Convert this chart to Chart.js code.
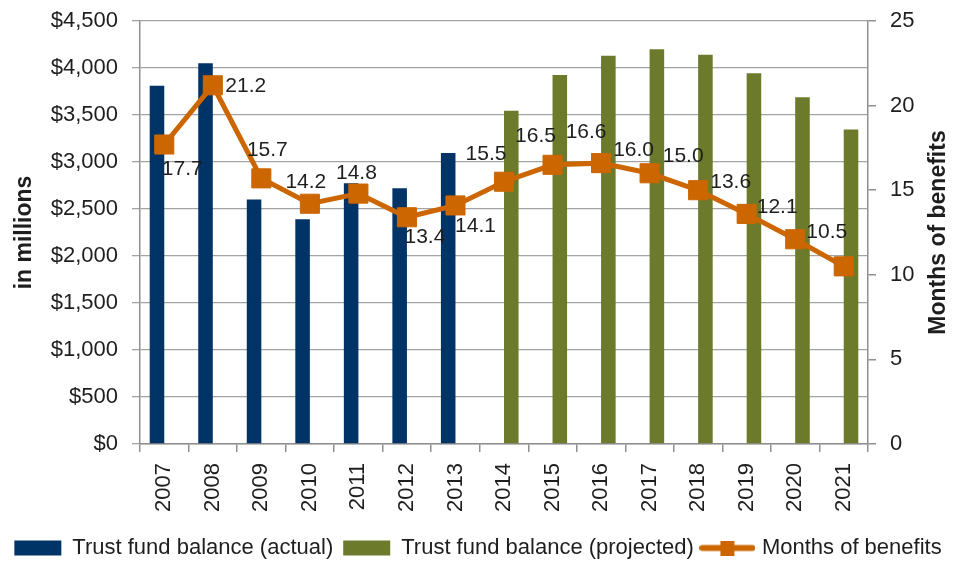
<!DOCTYPE html>
<html>
<head>
<meta charset="utf-8">
<title>Trust fund balance</title>
<script src="https://cdn.jsdelivr.net/npm/chart.js@4.4.1/dist/chart.umd.min.js"></script>
<style>
  html, body { margin: 0; padding: 0; background: #fff; }
  #chart { display: block; }
</style>
</head>
<body>
<canvas id="chart" width="956" height="561"></canvas>
<script>
const years = ['2007', '2008', '2009', '2010', '2011', '2012', '2013', '2014',
    '2015', '2016', '2017', '2018', '2019', '2020', '2021'];
// balances in $ millions
const actualBalance = [3810, 4050, 2600, 2390, 2775, 2720, 3095,
    null, null, null, null, null, null, null, null];
const projectedBalance = [null, null, null, null, null, null, null,
    3545, 3925, 4130, 4200, 4140, 3945, 3690, 3345];
const monthsOfBenefits = [17.7, 21.2, 15.7, 14.2, 14.8, 13.4, 14.1, 15.5,
    16.5, 16.6, 16.0, 15.0, 13.6, 12.1, 10.5];
const balanceTicks = [0, 500, 1000, 1500, 2000, 2500, 3000, 3500, 4000, 4500];
const monthTicks = [0, 5, 10, 15, 20, 25];

// where each value label sits relative to its marker (px)
const labelOffsets = [[18, 25], [33, 1], [6, -28], [-4, -22], [-2, -20], [18, 20], [20, 21],
    [-18, -28], [-17, -29], [-15, -31], [-16, -23], [-15, -34], [-16, -32], [-18, -32], [-17, -34]];

const NAVY = '#003366';
const OLIVE = '#6B7A2B';
const ORANGE = '#CC6600';
const GRID = '#a3a3a3';
const AXIS = '#8f8f8f';
const TEXT = '#1e1e1e';
const FONT = "'Liberation Sans', Arial, sans-serif";

Chart.defaults.font.family = FONT;
Chart.defaults.color = TEXT;

// legend symbol for the line series: line with square marker
function lineSymbol() {
    const c = document.createElement('canvas');
    c.width = 56;
    c.height = 15;
    const g = c.getContext('2d');
    g.strokeStyle = ORANGE;
    g.lineWidth = 6;
    g.lineCap = 'round';
    g.beginPath();
    g.moveTo(3, 7.5);
    g.lineTo(53, 7.5);
    g.stroke();
    g.fillStyle = ORANGE;
    g.fillRect(21, 0, 14, 15);
    return c;
}

const valueLabels = {
    id: 'valueLabels',
    afterDatasetsDraw(chart) {
        const meta = chart.getDatasetMeta(2);
        const ctx = chart.ctx;
        ctx.save();
        ctx.font = '21px ' + FONT;
        ctx.fillStyle = TEXT;
        ctx.textAlign = 'center';
        ctx.textBaseline = 'middle';
        meta.data.forEach((pt, i) => {
            const off = labelOffsets[i];
            ctx.fillText(monthsOfBenefits[i].toFixed(1), pt.x + off[0], pt.y + off[1]);
        });
        ctx.restore();
    }
};

const rightTitle = {
    id: 'rightTitle',
    afterDraw(chart) {
        const ctx = chart.ctx;
        const area = chart.chartArea;
        ctx.save();
        ctx.font = 'bold 23px ' + FONT;
        ctx.fillStyle = TEXT;
        ctx.textAlign = 'center';
        ctx.textBaseline = 'middle';
        ctx.translate(939, (area.top + area.bottom) / 2);
        ctx.rotate(-Math.PI / 2);
        ctx.fillText('Months of benefits', 0, 0);
        ctx.restore();
    }
};

function fixWidth(w) {
    return scale => {
        scale.width = w;
        scale.paddingTop = 0;
        scale.paddingBottom = 0;
    };
}

new Chart(document.getElementById('chart'), {
    type: 'bar',
    data: {
        labels: years,
        datasets: [{
            label: 'Trust fund balance (actual)',
            data: actualBalance,
            backgroundColor: NAVY,
            yAxisID: 'y',
            order: 2,
            categoryPercentage: 0.6,
            barPercentage: 1.0
        }, {
            label: 'Trust fund balance (projected)',
            data: projectedBalance,
            backgroundColor: OLIVE,
            yAxisID: 'y',
            order: 2,
            categoryPercentage: 0.6,
            barPercentage: 1.0
        }, {
            type: 'line',
            label: 'Months of benefits',
            data: monthsOfBenefits,
            yAxisID: 'y1',
            borderColor: ORANGE,
            backgroundColor: ORANGE,
            borderWidth: 5,
            pointStyle: 'rect',
            pointRadius: 13.5,
            pointBorderWidth: 1,
            pointBackgroundColor: ORANGE,
            pointBorderColor: ORANGE,
            tension: 0,
            order: 1
        }]
    },
    options: {
        responsive: false,
        animation: false,
        layout: { padding: { top: 21, left: 0, right: 0, bottom: 0 } },
        plugins: {
            tooltip: { enabled: false },
            legend: {
                position: 'bottom',
                maxHeight: 34,
                labels: {
                    usePointStyle: true,
                    pointStyleWidth: 47,
                    boxHeight: 15,
                    padding: 10,
                    color: TEXT,
                    font: { size: 22 },
                    sort: (a, b) => a.datasetIndex - b.datasetIndex,
                    generateLabels(chart) {
                        const items = Chart.defaults.plugins.legend.labels.generateLabels(chart);
                        items.forEach(it => {
                            it.lineWidth = 0;
                            it.pointStyle = it.datasetIndex === 2 ? lineSymbol() : 'rect';
                            if (it.datasetIndex === 2) it.fillStyle = ORANGE;
                        });
                        return items;
                    }
                }
            }
        },
        scales: {
            x: {
                offset: true,
                grid: {
                    offset: true,
                    drawOnChartArea: false,
                    drawTicks: true,
                    tickLength: 8,
                    color: AXIS,
                    lineWidth: 1.5
                },
                border: { color: AXIS, width: 1.5 },
                ticks: {
                    minRotation: 90,
                    maxRotation: 90,
                    padding: 11,
                    font: { size: 22 },
                    color: TEXT
                },
                afterFit(scale) { scale.height = 83; }
            },
            y: {
                position: 'left',
                min: 0,
                max: 4500,
                afterBuildTicks(scale) { scale.ticks = balanceTicks.map(v => ({ value: v })); },
                grid: { color: GRID, lineWidth: 1.3, tickLength: 8 },
                border: { color: AXIS, width: 1.5 },
                ticks: {
                    padding: 14,
                    font: { size: 22 },
                    color: TEXT,
                    callback: v => '$' + v.toLocaleString('en-US')
                },
                title: {
                    display: true,
                    text: 'in millions',
                    font: { size: 23, weight: 'bold' },
                    color: TEXT,
                    padding: { top: 11, bottom: 0 }
                },
                afterFit: fixWidth(140)
            },
            y1: {
                position: 'right',
                min: 0,
                max: 25,
                afterBuildTicks(scale) { scale.ticks = monthTicks.map(v => ({ value: v })); },
                grid: { drawOnChartArea: false, color: AXIS, lineWidth: 1.5, tickLength: 8 },
                border: { color: AXIS, width: 1.5 },
                ticks: { padding: 14, font: { size: 22 }, color: TEXT },
                afterFit: fixWidth(88)
            }
        }
    },
    plugins: [valueLabels, rightTitle]
});
</script>
</body>
</html>
